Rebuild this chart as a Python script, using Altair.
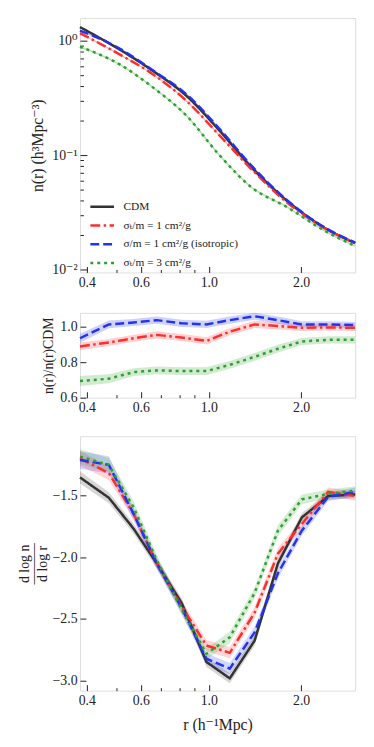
import altair as alt
import pandas as pd

# ---------------- data ----------------
series_names = ["CDM", "σₜ/m = 1 cm²/g", "σ/m = 1 cm²/g (isotropic)", "σₜ/m = 3 cm²/g"]
series_colors = ["#333333", "#ff2d2d", "#2233ee", "#2f9f2f"]
series_dashes = [[1, 0], [10, 3.5, 2.5, 3.5], [9, 4], [3, 4]]

# top panel: number density profile
r_profile = [0.38, 0.515, 0.66, 0.846, 1.083, 1.387, 1.777, 2.4, 3.0]
n_cdm = [1.32, 0.831, 0.541, 0.329, 0.164, 0.0768, 0.0410, 0.0229, 0.0170]
n_sidm1 = [1.17, 0.753, 0.506, 0.298, 0.149, 0.0740, 0.0396, 0.0228, 0.0170]
n_iso = [1.23, 0.848, 0.548, 0.340, 0.170, 0.0793, 0.0415, 0.0231, 0.0172]
n_sidm3 = [0.888, 0.617, 0.388, 0.221, 0.100, 0.0516, 0.0358, 0.0216, 0.0160]

# middle + bottom panels: binned nodes
r_nodes = [0.38, 0.472, 0.569, 0.676, 0.815, 0.982, 1.17, 1.41, 1.68, 2.01, 2.45, 3.0]

ratio_sidm1 = [0.889, 0.911, 0.935, 0.954, 0.939, 0.920, 0.972, 1.013, 1.004, 0.994, 0.996, 0.994]
ratio_iso = [0.935, 1.013, 1.024, 1.037, 1.019, 1.013, 1.037, 1.059, 1.037, 1.013, 1.013, 1.009]
ratio_sidm3 = [0.694, 0.707, 0.744, 0.754, 0.750, 0.750, 0.785, 0.830, 0.876, 0.917, 0.926, 0.926]
ratio_err_sidm1 = [0.022, 0.020, 0.020, 0.020, 0.020, 0.020, 0.020, 0.020, 0.020, 0.018, 0.018, 0.018]
ratio_err_iso = [0.025, 0.022, 0.020, 0.020, 0.020, 0.020, 0.020, 0.020, 0.020, 0.018, 0.018, 0.018]
ratio_err_sidm3 = [0.028, 0.025, 0.022, 0.022, 0.022, 0.022, 0.022, 0.022, 0.022, 0.020, 0.020, 0.020]

slope_cdm = [-1.354, -1.519, -1.771, -2.050, -2.370, -2.848, -2.981, -2.676, -2.050, -1.678, -1.505, -1.492]
slope_sidm1 = [-1.200, -1.319, -1.652, -2.050, -2.396, -2.715, -2.774, -2.449, -1.971, -1.731, -1.471, -1.505]
slope_iso = [-1.213, -1.253, -1.652, -2.050, -2.410, -2.822, -2.902, -2.609, -2.130, -1.785, -1.511, -1.471]
slope_sidm3 = [-1.186, -1.253, -1.598, -2.024, -2.423, -2.782, -2.649, -2.290, -1.785, -1.532, -1.487, -1.460]
slope_err_cdm = [0.050, 0.045, 0.040, 0.040, 0.040, 0.040, 0.040, 0.040, 0.040, 0.035, 0.030, 0.030]
slope_err_sidm1 = [0.060, 0.055, 0.045, 0.040, 0.045, 0.045, 0.045, 0.045, 0.045, 0.040, 0.035, 0.035]
slope_err_iso = [0.070, 0.070, 0.050, 0.045, 0.045, 0.045, 0.045, 0.045, 0.045, 0.040, 0.035, 0.035]
slope_err_sidm3 = [0.060, 0.055, 0.050, 0.045, 0.045, 0.045, 0.045, 0.045, 0.045, 0.040, 0.035, 0.035]

x_major = [0.4, 0.6, 1.0, 2.0]
x_minor = [0.5, 0.7, 0.8, 0.9]
ny_major = [0.01, 0.1, 1.0]
ny_minor = [0.02, 0.03, 0.04, 0.05, 0.06, 0.07, 0.08, 0.09,
            0.2, 0.3, 0.4, 0.5, 0.6, 0.7, 0.8, 0.9]
ratio_ticks = [0.6, 0.8, 1.0]
slope_ticks = [-3.0, -2.5, -2.0, -1.5]

# ---------------- tables ----------------
prof_vals = [n_cdm, n_sidm1, n_iso, n_sidm3]
prof = pd.DataFrame([
    {"r": r, "n": v, "series": s, "k": i}
    for i, (s, vals) in enumerate(zip(series_names, prof_vals))
    for r, v in zip(r_profile, vals)
])

ratio_sets = [(series_names[1], ratio_sidm1, ratio_err_sidm1),
              (series_names[2], ratio_iso, ratio_err_iso),
              (series_names[3], ratio_sidm3, ratio_err_sidm3)]
ratio = pd.DataFrame([
    {"r": r, "v": v, "lo": v - e, "hi": v + e, "series": s}
    for s, vals, errs in ratio_sets
    for r, v, e in zip(r_nodes, vals, errs)
])

slope_sets = [(series_names[0], slope_cdm, slope_err_cdm),
              (series_names[1], slope_sidm1, slope_err_sidm1),
              (series_names[2], slope_iso, slope_err_iso),
              (series_names[3], slope_sidm3, slope_err_sidm3)]
slope = pd.DataFrame([
    {"r": r, "v": v, "lo": v - e, "hi": v + e, "series": s}
    for s, vals, errs in slope_sets
    for r, v, e in zip(r_nodes, vals, errs)
])

# ---------------- styling helpers ----------------
FONT = "Liberation Serif, DejaVu Serif, serif"
TXT = "#222222"
W = 279
H_TOP, H_MID, H_BOT = 258, 86, 258

color_scale = alt.Scale(domain=series_names, range=series_colors)
dash_scale = alt.Scale(domain=series_names, range=series_dashes)
x_scale = alt.Scale(type="log", domain=[0.38, 3.0], nice=False)

X_MAJOR_TEST = "datum.value == 0.4 || datum.value == 0.6 || datum.value == 1 || datum.value == 2"


def x_axis(H, title=None, title_pad=4):
    kw = dict(
        values=sorted(x_major + x_minor),
        labelExpr="indexof([0.4, 0.6, 1, 2], datum.value) >= 0 ? format(datum.value, '.1f') : ''",
        grid=True, gridColor=TXT, gridWidth=1, gridOpacity=1,
        gridDash={"condition": {"test": X_MAJOR_TEST, "value": [0, H - 6, 6, 4000]},
                  "value": [0, H - 3, 3, 4000]},
        ticks=False, domain=False,
        labelFont=FONT, labelFontSize=14, labelColor=TXT, labelPadding=3,
        labelOverlap=False, labelFlush=False,
        titleFont=FONT, titleFontSize=16, titleFontWeight="normal", titleColor=TXT,
        titlePadding=title_pad,
    )
    if title is not None:
        kw["title"] = title
    return alt.Axis(**kw)


def y_axis(values, title, label_expr, dash, title_size, title_pad, line_height=None):
    kw = dict(
        values=values, labelExpr=label_expr,
        grid=True, gridColor=TXT, gridWidth=1, gridOpacity=1, gridDash=dash,
        ticks=False, domain=False,
        labelFont=FONT, labelFontSize=14, labelColor=TXT, labelPadding=3,
        labelOverlap=False, labelFlush=False,
        title=title, titleFont=FONT, titleFontSize=title_size, titleFontWeight="normal",
        titleColor=TXT, titlePadding=title_pad,
    )
    if line_height is not None:
        kw["titleLineHeight"] = line_height
    return alt.Axis(**kw)


legend = alt.Legend(
    orient="none", legendX=9, legendY=178, title=None,
    symbolType="stroke", symbolSize=576, symbolStrokeWidth=2.5, symbolOpacity=1,
    labelFont=FONT, labelFontSize=11.5, labelColor=TXT, labelOffset=8,
    rowPadding=-3, padding=0,
)

# ---------------- top panel ----------------
top_y = alt.Y(
    "n:Q",
    scale=alt.Scale(type="log", domain=[0.00942, 1.585], nice=False),
    axis=y_axis(
        sorted(ny_major + ny_minor), "n(r) (h³Mpc⁻³)",
        "datum.value == 1 ? '10⁰' : datum.value == 0.1 ? '10⁻¹' : datum.value == 0.01 ? '10⁻²' : ''",
        {"condition": {"test": "datum.value == 1 || datum.value == 0.1 || datum.value == 0.01",
                       "value": [7, 4000]}, "value": [3.5, 4000]},
        16, 6,
    ),
)
top_x = alt.X("r:Q", scale=x_scale, axis=x_axis(H_TOP), title=None)

top_under = alt.Chart(prof).mark_line(strokeWidth=1.5, strokeOpacity=0.35, interpolate="monotone").encode(
    x=top_x, y=top_y,
    color=alt.Color("series:N", scale=color_scale, legend=legend),
    order="k:Q",
)
top_lines = alt.Chart(prof).mark_line(strokeWidth=2.5, interpolate="monotone").encode(
    x=top_x, y=top_y,
    color=alt.Color("series:N", scale=color_scale, legend=legend),
    strokeDash=alt.StrokeDash("series:N", scale=dash_scale, legend=legend),
    order="k:Q",
)
top = alt.layer(top_under, top_lines).properties(width=W, height=H_TOP)

# ---------------- middle panel ----------------
mid_yscale = alt.Scale(domain=[0.6, 1.078], nice=False, zero=False)
mid_x = alt.X("r:Q", scale=x_scale, axis=x_axis(H_MID), title=None)
mid_y = alt.Y(
    "v:Q", scale=mid_yscale,
    axis=y_axis(ratio_ticks, "n(r)/n(r)CDM", "format(datum.value, '.1f')", [6, 4000], 14, 4),
)
mid_band = alt.Chart(ratio).mark_area(opacity=0.22).encode(
    x=mid_x, y=alt.Y("lo:Q", scale=mid_yscale), y2="hi:Q",
    color=alt.Color("series:N", scale=color_scale, legend=None),
)
mid_line = alt.Chart(ratio).mark_line(strokeWidth=2.5).encode(
    x=mid_x, y=mid_y,
    color=alt.Color("series:N", scale=color_scale, legend=None),
    strokeDash=alt.StrokeDash("series:N", scale=dash_scale, legend=None),
)
mid = alt.layer(mid_band, mid_line).properties(width=W, height=H_MID)

# ---------------- bottom panel ----------------
bot_x = alt.X("r:Q", scale=x_scale, axis=x_axis(H_BOT, "r (h⁻¹Mpc)", 9))
bot_yscale = alt.Scale(domain=[-3.08, -1.02], nice=False, zero=False)
bot_y = alt.Y(
    "v:Q", scale=bot_yscale,
    axis=y_axis(slope_ticks, ["d log n", "―――", "d log r"],
                "replace(format(datum.value, '.1f'), '-', '−')", [6, 4000], 14, 3, 9),
)
bot_band = alt.Chart(slope).mark_area(opacity=0.2).encode(
    x=bot_x, y=alt.Y("lo:Q", scale=bot_yscale), y2="hi:Q",
    color=alt.Color("series:N", scale=color_scale, legend=None),
)
bot_line = alt.Chart(slope).mark_line(strokeWidth=2.5).encode(
    x=bot_x, y=bot_y,
    color=alt.Color("series:N", scale=color_scale, legend=None),
    strokeDash=alt.StrokeDash("series:N", scale=dash_scale, legend=None),
)
bot = alt.layer(bot_band, bot_line).properties(width=W, height=H_BOT)

chart = alt.vconcat(top, mid, bot, spacing=20).resolve_scale(
    color="independent", strokeDash="independent"
).properties(
    padding={"left": 9, "top": 4, "right": 5, "bottom": 5}
).configure_view(stroke=TXT, strokeWidth=1.5).configure(background="white")

chart.save("out.html", embed_options={"renderer": "svg", "actions": False})
